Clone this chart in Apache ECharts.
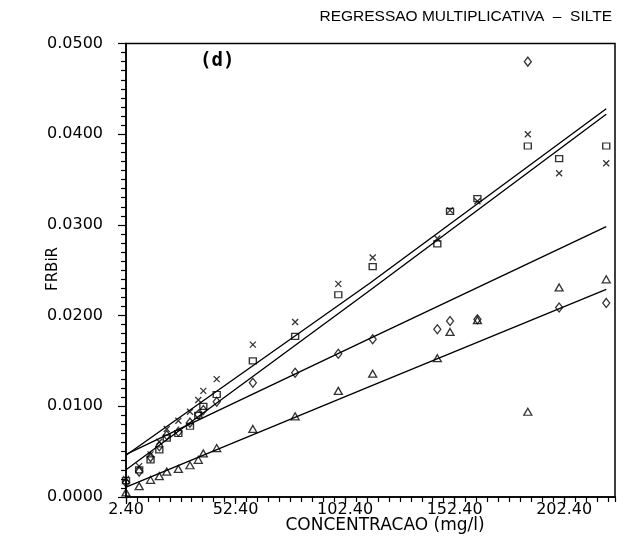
<!DOCTYPE html>
<html>
<head>
<meta charset="utf-8">
<script src="https://cdn.jsdelivr.net/npm/echarts@6/dist/echarts.min.js"></script>
<style>
html,body{margin:0;padding:0;background:#fff;}
#chart{width:628px;height:547px;}
</style>
</head>
<body>
<div id="chart"></div>
<script>
// ---- data ----
const titleText = 'REGRESSAO MULTIPLICATIVA  –  SILTE';
const panelLabel = '(d)';
const xName = 'CONCENTRACAO (mg/l)';
const yName = 'FRBiR';
const xMin = 2.4, xMax = 225.6, xStep = 50;
const yMin = 0, yMax = 0.05, yStep = 0.01;

const xVals     = [2.4, 8.4, 13.6, 17.6, 21.0, 26.3, 31.6, 35.4, 37.7, 43.8, 60.3, 79.6, 99.3, 115.0, 144.5, 150.3, 162.8, 185.8, 200.1, 221.6];
const crossY    = [0.0020,0.0034,0.0047,0.0061,0.0075,0.0084,0.0094,0.0107,0.0117,0.0130,0.0168,0.0193,0.0235,0.0264,0.0285,0.0316,0.0326,0.0400,0.0357,0.0368];
const squareY   = [0.0018,0.0030,0.0041,0.0052,0.0065,0.0070,0.0078,0.0090,0.0100,0.0113,0.0150,0.0177,0.0223,0.0254,0.0279,0.0315,0.0329,0.0387,0.0373,0.0387];
const diamondY  = [0.0016,0.0028,0.0044,0.0056,0.0068,0.0072,0.0082,0.0091,0.0096,0.0105,0.0126,0.0137,0.0158,0.0174,0.0185,0.0194,0.0196,0.0480,0.0209,0.0214];
const triangleY = [0.0005,0.0012,0.0019,0.0023,0.0028,0.0031,0.0035,0.0041,0.0048,0.0054,0.0075,0.0089,0.0117,0.0136,0.0153,0.0182,0.0195,0.0094,0.0231,0.0240];

// regression lines (read at start, middle, end)
const fitX        = [2.4, 113.8, 221.6];
const crossFit    = [0.0046, 0.0236, 0.0428];
const squareFit   = [0.0030, 0.0228, 0.0422];
const diamondFit  = [0.0047, 0.0175, 0.0298];
const triangleFit = [0.0011, 0.0122, 0.0229];

// ---- chart ----
const pair = (xs, ys) => xs.map((x, i) => [x, ys[i]]);
const LFONT = 'DejaVu Sans';
const crossPath = 'path://M0,0L10,10M10,0L0,10';

function scatter(name, ys, symbol, size) {
  return {
    name, type: 'scatter', data: pair(xVals, ys), symbol, symbolSize: size,
    itemStyle: { color: 'rgba(0,0,0,0)', borderColor: '#000', borderWidth: 1.3 },
    silent: true, z: 3
  };
}
function fit(name, ys) {
  return {
    name, type: 'line', data: pair(fitX, ys), showSymbol: false, symbol: 'none',
    lineStyle: { color: '#000', width: 1.4 }, silent: true, z: 2
  };
}

const chart = echarts.init(document.getElementById('chart'), null, { renderer: 'canvas' });
chart.setOption({
  animation: false,
  backgroundColor: '#fff',
  grid: { left: 126, right: 13, top: 43.5, bottom: 50, show: true, borderColor: '#000', borderWidth: 1.5, backgroundColor: 'transparent' },
  xAxis: [
    { type: 'value', min: xMin, max: xMax, interval: 5, position: 'bottom',
      axisLine: { show: true, lineStyle: { color: '#000', width: 1.5 } },
      axisTick: { show: true, length: 5, lineStyle: { color: '#000', width: 1.2 } },
      axisLabel: { show: false }, splitLine: { show: false } },
    { type: 'value', min: xMin, max: xMax, interval: xStep, position: 'bottom',
      axisLine: { show: false },
      axisTick: { show: true, length: 7, lineStyle: { color: '#000', width: 1.2 } },
      axisLabel: { show: true, showMaxLabel: false, margin: 5, color: '#000', fontFamily: LFONT, fontSize: 16,
        formatter: v => Math.abs(((v - xMin) / xStep) - Math.round((v - xMin) / xStep)) < 1e-6 ? v.toFixed(2) : '' },
      splitLine: { show: false } }
  ],
  yAxis: {
    type: 'value', min: yMin, max: yMax, interval: yStep,
    axisLine: { show: true, lineStyle: { color: '#000', width: 1.5 } },
    axisTick: { show: true, length: 8, lineStyle: { color: '#000', width: 1.2 } },
    minorTick: { show: true, splitNumber: 10, length: 5, lineStyle: { color: '#000', width: 1.2 } },
    axisLabel: { margin: 23, color: '#000', fontFamily: LFONT, fontSize: 16, formatter: v => v.toFixed(4) },
    splitLine: { show: false }, minorSplitLine: { show: false }
  },
  graphic: [
    { type: 'text', x: 612, y: 9, style: { text: titleText, fill: '#000', font: '15.5px "Liberation Sans"', textAlign: 'right', textVerticalAlign: 'top' } },
    { type: 'text', x: 200, y: 52, style: { text: panelLabel, fill: '#000', font: 'bold 19px "DejaVu Sans Mono"', textVerticalAlign: 'top' } },
    { type: 'text', x: 385, y: 517, style: { text: xName, fill: '#000', font: '17px "DejaVu Sans"', textAlign: 'center', textVerticalAlign: 'top' } },
    { type: 'text', x: 53, y: 269, rotation: Math.PI / 2, style: { text: yName, fill: '#000', font: '15px "DejaVu Sans"', textAlign: 'center', textVerticalAlign: 'middle' } }
  ],
  series: [
    fit('fitCross', crossFit),
    fit('fitSquare', squareFit),
    fit('fitDiamond', diamondFit),
    fit('fitTriangle', triangleFit),
    scatter('×', crossY, crossPath, [6, 6]),
    scatter('□', squareY, 'rect', [7, 6]),
    scatter('◇', diamondY, 'diamond', [7, 9]),
    scatter('△', triangleY, 'triangle', [8, 7])
  ]
});
</script>
</body>
</html>
